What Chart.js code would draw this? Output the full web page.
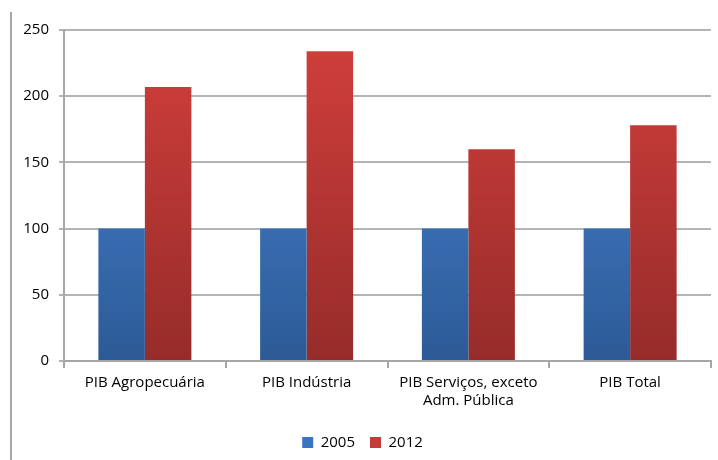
<!DOCTYPE html>
<html>
<head>
<meta charset="utf-8">
<script src="https://cdn.jsdelivr.net/npm/chart.js@4/dist/chart.umd.min.js"></script>
<style>
    html, body { margin: 0; padding: 0; background: #fff; }
    #wrap { position: relative; width: 718px; height: 460px; }
    #frame { position: absolute; left: 10px; top: 12px; width: 0; height: 448px; border-left: 2px solid #a6a6a6; }
</style>
</head>
<body>
<div id="wrap">
    <div id="frame"></div>
    <canvas id="barChart" width="718" height="460"></canvas>
</div>
<script>
// ============================================================================
// Data
// ============================================================================

const categories = [
    "PIB Agropecuária",
    "PIB Indústria",
    ["PIB Serviços, exceto", "Adm. Pública"],
    "PIB Total",
];
const seriesLabels = ["2005", "2012"];
const values2005 = [100, 100, 100, 100];
const values2012 = [207, 234, 160, 178];
const yTicks = [0, 50, 100, 150, 200, 250];

const FONT = { family: "'Open Sans', sans-serif", size: 15 };

/**
 * Vertical gradient over chart area (light top, dark bottom)
 */
function verticalGradient(top, bottom) {
    return (ctx) => {
        const area = ctx.chart.chartArea;
        if (!area) return top;
        const g = ctx.chart.ctx.createLinearGradient(0, area.top, 0, area.bottom);
        g.addColorStop(0, top);
        g.addColorStop(1, bottom);
        return g;
    };
}

const datasets = [
    {
        label: seriesLabels[0],
        data: values2005,
        backgroundColor: verticalGradient("#4a87d6", "#2c5a96"),
    },
    {
        label: seriesLabels[1],
        data: values2012,
        backgroundColor: verticalGradient("#d23f3c", "#962c2a"),
    },
];

new Chart(document.getElementById("barChart").getContext("2d"), {
    type: "bar",
    data: { labels: categories, datasets },
    options: {
        responsive: false,
        animation: false,
        datasets: { bar: { categoryPercentage: 0.575, barPercentage: 1 } },
        layout: { padding: { left: 14, right: 7, top: 30, bottom: 0 } },
        plugins: {
            tooltip: { enabled: false },
            legend: {
                position: "bottom",
                labels: {
                    color: "#000",
                    font: FONT,
                    boxWidth: 11,
                    boxHeight: 11,
                    padding: 15,
                    generateLabels: () => [
                        { text: seriesLabels[0], fillStyle: "#3a74c0", strokeStyle: "#3a74c0", lineWidth: 0, datasetIndex: 0 },
                        { text: seriesLabels[1], fillStyle: "#c63a37", strokeStyle: "#c63a37", lineWidth: 0, datasetIndex: 1 },
                    ],
                },
            },
        },
        scales: {
            x: {
                afterFit: (scale) => { scale.height += 4; },
                border: { color: "#a6a6a6", width: 2 },
                grid: { offset: true, drawOnChartArea: false, color: "#a6a6a6", lineWidth: 2, tickLength: 7 },
                ticks: { color: "#000", font: FONT, padding: 6, maxRotation: 0 },
            },
            y: {
                min: 0,
                max: 250,
                afterBuildTicks: (scale) => { scale.ticks = yTicks.map((v) => ({ value: v })); },
                afterFit: (scale) => { scale.width = 50; },
                border: { color: "#a6a6a6", width: 2 },
                grid: { color: "#b4b4b4", lineWidth: 2, tickLength: 5 },
                ticks: { color: "#000", font: FONT, padding: 10 },
            },
        },
    },
});
</script>
</body>
</html>
